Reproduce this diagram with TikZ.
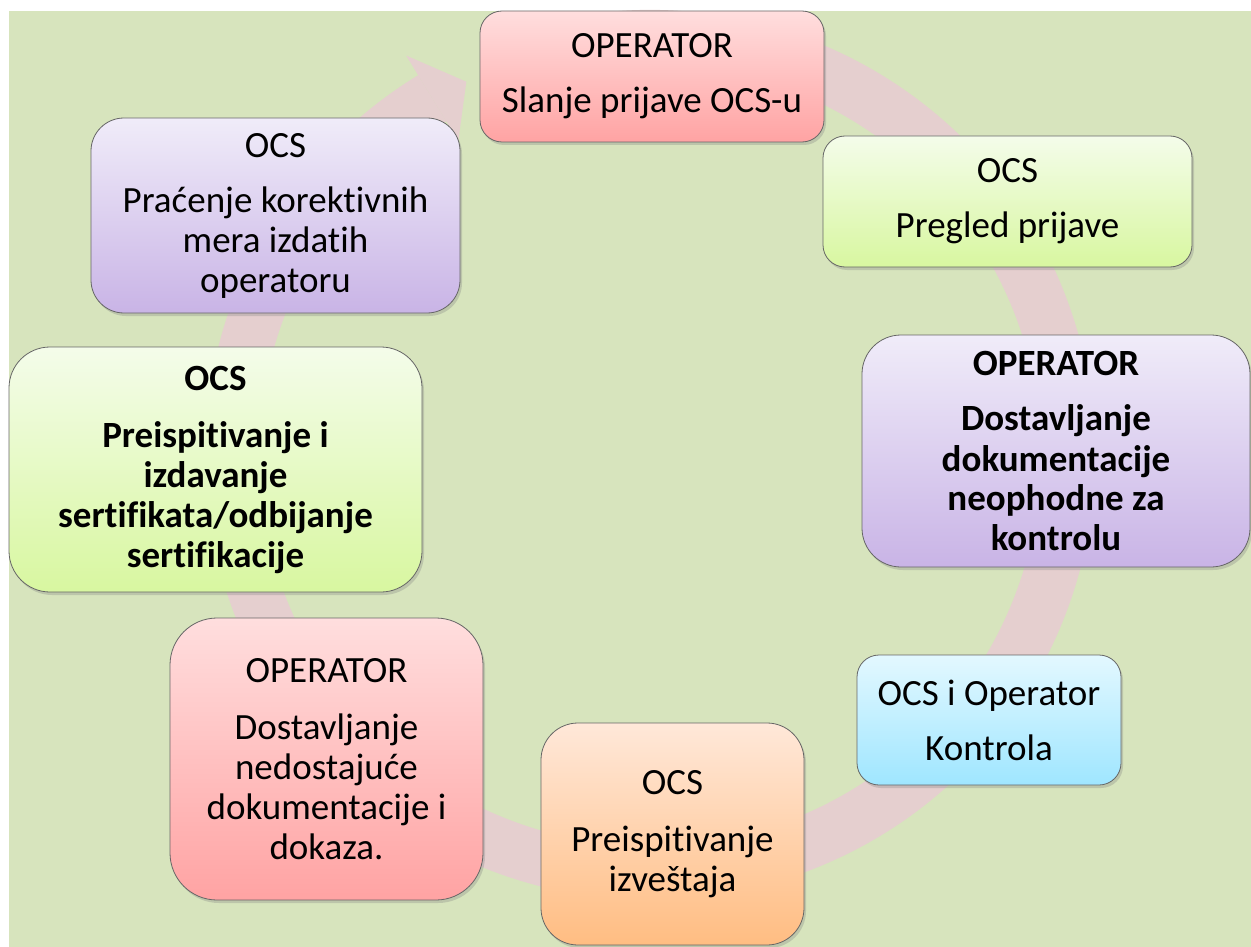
\documentclass[tikz,border=0pt]{standalone}
\usepackage{fontspec}
\setmainfont{Carlito}[RawFeature={-liga;-clig;-dlig}]
\usetikzlibrary{calc,shadows}
\definecolor{bg}{HTML}{D7E4BD}
\definecolor{ringcol}{HTML}{E5CFCF}
\definecolor{edgecol}{HTML}{666666}
\definecolor{pinkT}{HTML}{FFDEDE}\definecolor{pinkB}{HTML}{FFA3A3}
\definecolor{greenT}{HTML}{F4FCEA}\definecolor{greenB}{HTML}{D8F7A0}
\definecolor{purpT}{HTML}{F0ECF9}\definecolor{purpB}{HTML}{C9B4E6}
\definecolor{blueT}{HTML}{E3F8FF}\definecolor{blueB}{HTML}{9FE6FF}
\definecolor{orT}{HTML}{FFE8D9}\definecolor{orB}{HTML}{FFBD82}
\tikzset{
  box/.style={draw=edgecol, line width=0.8pt, align=center, inner sep=0pt,
    font=\fontsize{37}{40}\selectfont,
    drop shadow={shadow xshift=2pt, shadow yshift=-3pt, opacity=0.3}},
  boldtext/.style={font=\fontsize{37}{40}\selectfont\bfseries},
  pinkbox/.style={box, top color=pinkT, bottom color=pinkB},
  greenbox/.style={box, top color=greenT, bottom color=greenB},
  purpbox/.style={box, top color=purpT, bottom color=purpB},
  bluebox/.style={box, top color=blueT, bottom color=blueB},
  orbox/.style={box, top color=orT, bottom color=orB},
}
\begin{document}
\begin{tikzpicture}[x=1pt,y=-1pt]
\useasboundingbox (0,0) rectangle (1251,947);
\fill[bg] (9,11) rectangle (1251,947);
\coordinate (C) at (650,455);
% ring band
\fill[ringcol] ($(C)+(-110:445)$) arc[start angle=-110,end angle=238.6,radius=445]
  -- ($(C)+(238.6:391)$) arc[start angle=238.6,end angle=-110,radius=391] -- cycle;
% arrow head
\fill[ringcol] ($(C)+(238.6:468)$) -- ($(C)+(243.8:416)$) -- ($(C)+(238.6:368)$) -- cycle;

\node[pinkbox, minimum width=344, minimum height=131, rounded corners=22] (b1) at (652,76.5)
  {OPERATOR\\[15pt]Slanje prijave OCS-u};
\node[greenbox, minimum width=369, minimum height=131, rounded corners=22] (b2) at (1007.5,201.5)
  {OCS\\[15pt]Pregled prijave};
\node[purpbox, boldtext, minimum width=388, minimum height=232, rounded corners=39] (b3) at (1056,451)
  {OPERATOR\\[16pt]Dostavljanje\\dokumentacije\\neophodne za\\kontrolu};
\node[bluebox, minimum width=264, minimum height=130, rounded corners=22] (b4) at (989,720)
  {OCS i Operator\\[15pt]Kontrola};
\node[orbox, minimum width=263, minimum height=222, rounded corners=37] (b5) at (672.5,834)
  {OCS\\[17pt]Preispitivanje\\izveštaja};
\node[pinkbox, minimum width=313, minimum height=282, rounded corners=47] (b6) at (326.5,759)
  {OPERATOR\\[17pt]Dostavljanje\\nedostajuće\\dokumentacije i\\dokaza.};
\node[greenbox, boldtext, minimum width=413, minimum height=245, rounded corners=41] (b7) at (215.5,469.5)
  {OCS\\[17pt]Preispitivanje i\\izdavanje\\sertifikata/odbijanje\\sertifikacije};
\node[purpbox, minimum width=369, minimum height=195, rounded corners=33] (b8) at (275.5,215.5)
  {OCS\\[15pt]Praćenje korektivnih\\mera izdatih\\operatoru};
\end{tikzpicture}
\end{document}
